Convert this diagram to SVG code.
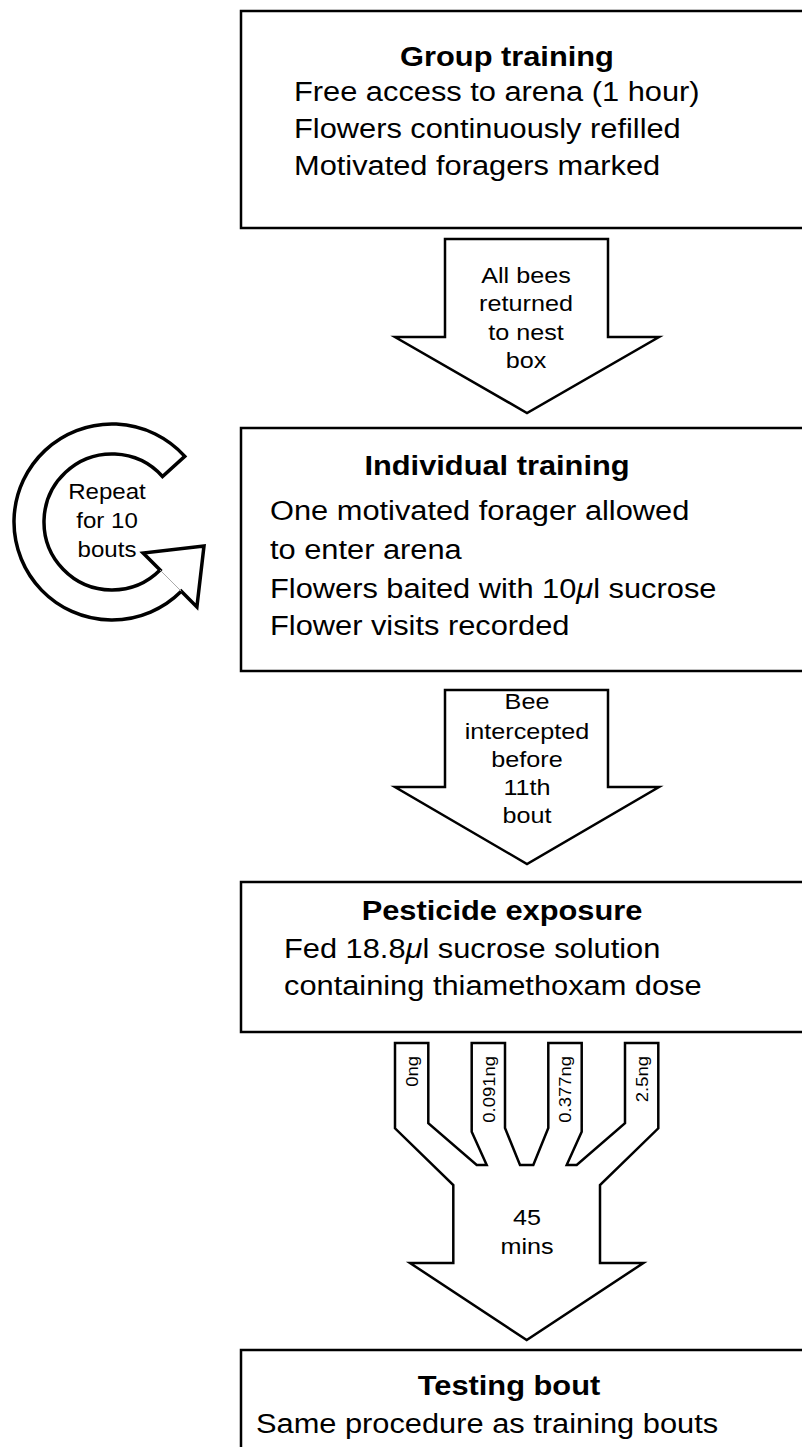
<svg xmlns="http://www.w3.org/2000/svg" width="802" height="1447" viewBox="0 0 802 1447">
<style>
.t{font-family:"Liberation Sans",Arial,Helvetica,sans-serif;fill:#000}
.h{font-weight:bold;font-size:28px}
.b{font-size:28px}
.s{font-size:22.5px}
.r{font-size:21.5px}
.p{font-size:16.5px}
.box{fill:#fff;stroke:#000;stroke-width:2.5}
.arr{fill:#fff;stroke:#000;stroke-width:2.5;stroke-linejoin:miter}
.loop{fill:#fff;stroke:#000;stroke-width:3.5;stroke-linejoin:miter}
</style>
<rect width="802" height="1447" fill="#fff"/>

<g id="group-training">
<rect class="box" x="241" y="11" width="600" height="217"/>
<text class="t h" text-anchor="middle" transform="translate(507,66) scale(1.1,1)">Group training</text>
<text class="t b" transform="translate(294,101) scale(1.1,1)">Free access to arena (1 hour)</text>
<text class="t b" transform="translate(294,138) scale(1.1,1)">Flowers continuously refilled</text>
<text class="t b" transform="translate(294,175) scale(1.1,1)">Motivated foragers marked</text>
</g>

<g id="individual-training">
<rect class="box" x="241" y="428" width="600" height="243"/>
<text class="t h" text-anchor="middle" transform="translate(497,475) scale(1.1,1)">Individual training</text>
<text class="t b" transform="translate(270,520) scale(1.1,1)">One motivated forager allowed</text>
<text class="t b" transform="translate(270,559) scale(1.1,1)">to enter arena</text>
<text class="t b" transform="translate(270,598) scale(1.1,1)">Flowers baited with 10<tspan font-style="italic">μ</tspan>l sucrose</text>
<text class="t b" transform="translate(270,635) scale(1.1,1)">Flower visits recorded</text>
</g>

<g id="pesticide-exposure">
<rect class="box" x="241" y="882" width="600" height="150"/>
<text class="t h" text-anchor="middle" transform="translate(502,920) scale(1.1,1)">Pesticide exposure</text>
<text class="t b" transform="translate(284,958) scale(1.1,1)">Fed 18.8<tspan font-style="italic">μ</tspan>l sucrose solution</text>
<text class="t b" transform="translate(284,995) scale(1.1,1)">containing thiamethoxam dose</text>
</g>

<g id="testing-bout">
<rect class="box" x="241" y="1350" width="600" height="200"/>
<text class="t h" text-anchor="middle" transform="translate(509,1395) scale(1.1,1)">Testing bout</text>
<text class="t b" transform="translate(256,1433) scale(1.1,1)">Same procedure as training bouts</text>
</g>

<g id="repeat-loop">
<path class="loop" d="M184.8,456.4 A98,98 0 1 0 181.3,591.3 L196.9,606.9 L204,546 L143.1,553.1 L160.1,570.1 A68,68 0 1 1 162.5,476.5 Z"/>
<line x1="160.1" y1="570.1" x2="181.3" y2="591.3" stroke="#aaa" stroke-width="1"/>
<text class="t r" text-anchor="middle" transform="translate(107,499) scale(1.12,1)">Repeat</text>
<text class="t r" text-anchor="middle" transform="translate(107,528) scale(1.12,1)">for 10</text>
<text class="t r" text-anchor="middle" transform="translate(107,557) scale(1.12,1)">bouts</text>
</g>

<g id="connectors">
<g id="arrow-returned">
<path class="arr" d="M445,239 L608,239 L608,337 L659,337 L527,413 L395,337 L445,337 Z"/>
<text class="t s" text-anchor="middle" transform="translate(526,283) scale(1.12,1)">All bees</text>
<text class="t s" text-anchor="middle" transform="translate(526,311) scale(1.12,1)">returned</text>
<text class="t s" text-anchor="middle" transform="translate(526,340) scale(1.12,1)">to nest</text>
<text class="t s" text-anchor="middle" transform="translate(526,368) scale(1.12,1)">box</text>
</g>
<g id="arrow-intercepted">
<path class="arr" d="M445,690 L608,690 L608,787 L659,787 L527,864 L395,787 L445,787 Z"/>
<text class="t s" text-anchor="middle" transform="translate(527,709) scale(1.12,1)">Bee</text>
<text class="t s" text-anchor="middle" transform="translate(527,739) scale(1.12,1)">intercepted</text>
<text class="t s" text-anchor="middle" transform="translate(527,767) scale(1.12,1)">before</text>
<text class="t s" text-anchor="middle" transform="translate(527,795) scale(1.12,1)">11th</text>
<text class="t s" text-anchor="middle" transform="translate(527,823) scale(1.12,1)">bout</text>
</g>
<g id="arrow-doses">
<path class="arr" d="M395,1043 L428.3,1043 L428.3,1123.3 L476.7,1165 L486.7,1165 L471.7,1131.7 L471.7,1043 L505,1043 L505,1128 L520,1165 L533.3,1165 L548.3,1128 L548.3,1043 L581.7,1043 L581.7,1131.7 L566.7,1165 L576.7,1165 L625,1123.3 L625,1043 L658.3,1043 L658.3,1128.3 L600,1185 L600,1263 L643.4,1263 L526.7,1340 L410,1263 L453.3,1263 L453.3,1185 L395,1128.3 Z"/>
<text class="t p" text-anchor="end" transform="translate(417.5,1056) rotate(-90) scale(1.12,1)">0ng</text>
<text class="t p" text-anchor="end" transform="translate(494.5,1056) rotate(-90) scale(1.12,1)">0.091ng</text>
<text class="t p" text-anchor="end" transform="translate(571,1056) rotate(-90) scale(1.12,1)">0.377ng</text>
<text class="t p" text-anchor="end" transform="translate(647.5,1056) rotate(-90) scale(1.12,1)">2.5ng</text>
<text class="t s" text-anchor="middle" transform="translate(527,1225) scale(1.12,1)">45</text>
<text class="t s" text-anchor="middle" transform="translate(527,1254) scale(1.12,1)">mins</text>
</g>
</g>
</svg>
